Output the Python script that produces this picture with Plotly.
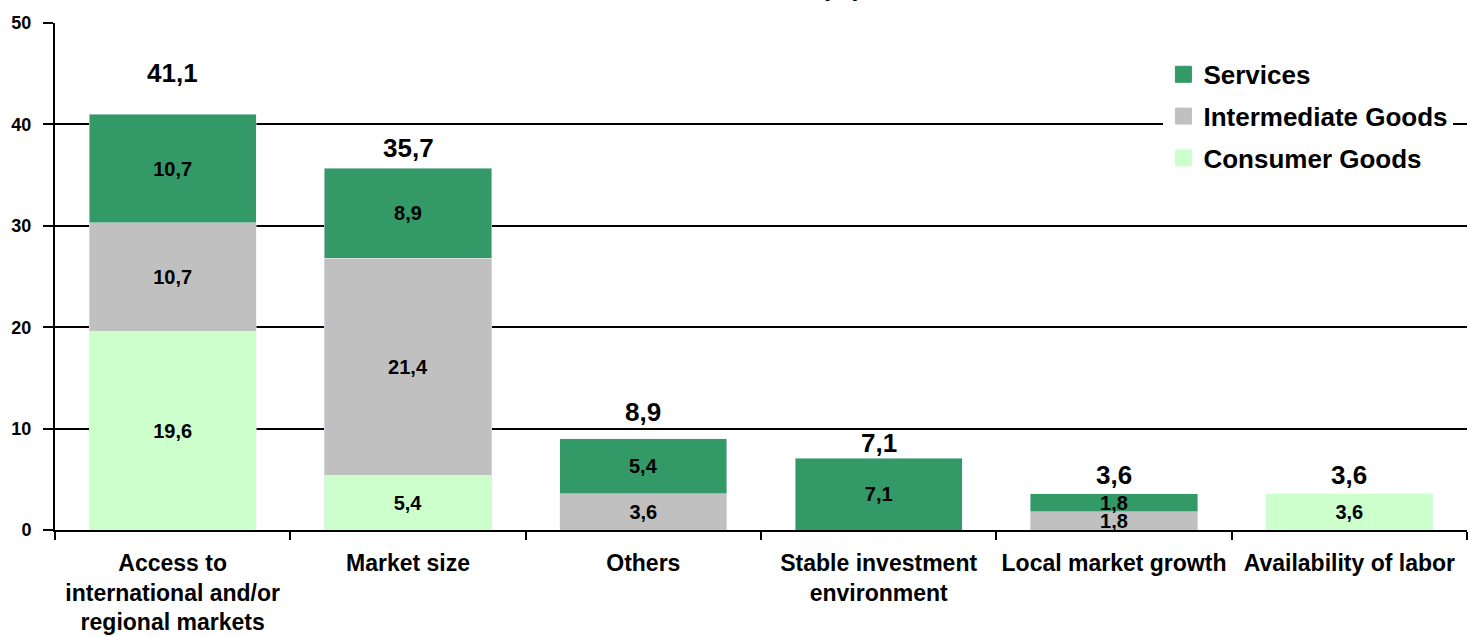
import plotly.graph_objects as go

categories = [
    'Access to<br>international and/or<br>regional markets',
    'Market size',
    'Others',
    'Stable investment<br>environment',
    'Local market growth',
    'Availability of labor',
]
consumer     = [19.6, 5.4, None, None, None, 3.6]
intermediate = [10.7, 21.4, 3.6, None, 1.8, None]
services     = [10.7, 8.9, 5.4, 7.1, 1.8, None]
totals       = [41.1, 35.7, 8.9, 7.1, 3.6, 3.6]

FONT = 'Liberation Sans, Arial, sans-serif'
COLORS = {'Services': '#339966', 'Intermediate Goods': '#C0C0C0',
          'Consumer Goods': '#CCFFCC'}
# pixel lift of each total label above its stack (hand placed in the source)
TOTAL_LIFT = [40, 20, 28, 15, 19, 19]

_SEG = dict(textposition='inside', insidetextanchor='middle', textangle=0,
            texttemplate='%{y:.1f}', showlegend=False,
            textfont=dict(family=FONT, size=20, color='black', weight='bold'),
            hoverinfo='skip')

fig = go.Figure()
fig.add_trace(go.Bar(x=categories, y=consumer, name='Consumer Goods',
                     marker_color=COLORS['Consumer Goods'], **_SEG))
fig.add_trace(go.Bar(x=categories, y=intermediate, name='Intermediate Goods',
                     marker_color=COLORS['Intermediate Goods'], **_SEG))
fig.add_trace(go.Bar(x=categories, y=services, name='Services',
                     marker_color=COLORS['Services'], **_SEG))

# legend-only entries with bigger square swatches
for i, name in enumerate(['Services', 'Intermediate Goods', 'Consumer Goods']):
    fig.add_trace(go.Scatter(
        x=[None], y=[None], mode='markers', name=name, legendgroup=name,
        legendrank=i,
        marker=dict(symbol='square', size=16, color=COLORS[name],
                    line=dict(color=COLORS[name], width=1)),
    ))

for c, t, lift in zip(categories, totals, TOTAL_LIFT):
    fig.add_annotation(x=c, y=t, text=f'{t:.1f}'.replace('.', ','),
                       showarrow=False, yanchor='middle', yshift=lift,
                       font=dict(family=FONT, size=26, color='black', weight='bold'))

# title, mostly cropped off the top in the source image
fig.add_annotation(text='(%)', xref='paper', yref='paper', x=0.557, y=1,
                   yanchor='middle', yshift=36, showarrow=False,
                   font=dict(family=FONT, size=26, color='black', weight='bold'))

fig.update_layout(
    width=1469, height=637,
    barmode='stack', bargap=0.29,
    separators=', ',
    plot_bgcolor='white', paper_bgcolor='white',
    margin=dict(l=55, r=2, t=23, b=104),
    font=dict(family=FONT, size=18, color='black', weight='bold'),
    uniformtext=dict(minsize=20, mode='show'),
    legend=dict(x=0.785, xanchor='left', y=0.945, yanchor='top',
                bgcolor='white', font=dict(family=FONT, size=26, weight='bold'),
                itemwidth=30, tracegroupgap=5),
    xaxis=dict(showline=True, linecolor='black', linewidth=2, tickangle=0,
               ticks='outside', tickson='boundaries', ticklen=8,
               tickcolor='black', tickwidth=1.5, ticklabelstandoff=11,
               tickfont=dict(family=FONT, size=23, weight='bold')),
    yaxis=dict(range=[0, 50], dtick=10, showline=True, linecolor='black',
               linewidth=2, ticks='outside', ticklen=10, tickcolor='black',
               tickwidth=1.5, showgrid=True, gridcolor='black', gridwidth=2,
               zeroline=False, ticklabelstandoff=8,
               tickfont=dict(family=FONT, size=18, weight='bold')),
)

fig.write_html('out.html', config={'displayModeBar': False},
               post_script="document.body.style.margin='0';"
                           "document.body.style.overflow='hidden';")
